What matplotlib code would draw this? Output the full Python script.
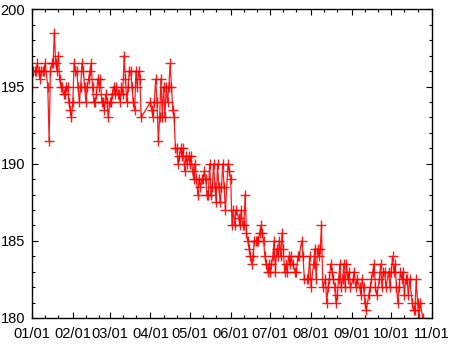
import matplotlib
matplotlib.use("Agg")
import matplotlib.pyplot as plt
import matplotlib.dates as mdates
import pandas as pd

# day of year (0 = 01/01) and weight readings
days = [
    0, 1, 2, 3, 4, 5, 6, 7, 8, 9, 10, 12, 13, 14, 15, 16, 17, 18, 19, 20,
    21, 22, 23, 24, 25, 26, 27, 28, 29, 30, 31, 32, 33, 34, 35, 36, 37, 38, 39, 40,
    41, 42, 43, 44, 45, 46, 47, 48, 49, 50, 51, 52, 53, 54, 55, 56, 57, 58, 59, 60,
    61, 62, 63, 64, 65, 66, 67, 68, 69, 70, 71, 72, 73, 74, 75, 76, 77, 78, 79, 80,
    81, 82, 83, 90, 91, 92, 93, 94, 95, 96, 97, 98, 99, 100, 101, 102, 103, 104, 105, 106,
    107, 108, 109, 110, 111, 112, 113, 114, 115, 116, 117, 118, 119, 120, 121, 122, 123, 124, 125, 126,
    127, 128, 129, 130, 131, 132, 133, 134, 135, 136, 137, 138, 139, 140, 141, 142, 143, 144, 145, 146,
    147, 149, 150, 151, 152, 153, 154, 155, 157, 158, 159, 160, 161, 162, 163, 164, 165, 166, 167, 168,
    169, 170, 171, 172, 173, 174, 175, 176, 177, 178, 179, 180, 181, 182, 183, 184, 185, 186, 187, 188,
    189, 190, 191, 192, 193, 194, 195, 196, 197, 198, 200, 201, 202, 203, 205, 206, 207, 209, 210, 211,
    212, 214, 215, 216, 217, 218, 219, 220, 221, 223, 224, 225, 226, 227, 228, 229, 230, 231, 232, 233,
    234, 235, 236, 237, 238, 239, 240, 241, 242, 244, 245, 246, 247, 249, 250, 251, 252, 253, 254, 256,
    257, 258, 259, 260, 261, 262, 264, 265, 266, 267, 268, 269, 271, 272, 273, 274, 275, 276, 277, 278,
    279, 280, 281, 282, 283, 284, 285, 286, 287, 289, 290, 291, 292, 293, 294, 295, 297,
]
weight = [
    195, 196, 196, 196, 196.5, 196, 195.5, 196, 196, 196, 196.5, 195, 191.5, 196, 196.5, 196.5, 198.5, 196.5, 196, 197,
    195.5, 195, 195, 194.5, 194.5, 195, 195, 194, 193.5, 193, 194, 196.5, 196, 196, 195, 194, 195, 196.5, 196, 195,
    194, 195, 195.5, 196, 196.5, 195, 194, 194, 194.5, 195.5, 195, 195.5, 194, 194, 193.5, 194.5, 194, 193, 194, 194,
    194.5, 195, 194.5, 195, 194.5, 194.5, 194, 195, 194.5, 197, 195.5, 194, 195, 196, 196, 195, 194, 193.5, 196, 195,
    196, 195.5, 193, 194, 193.5, 193, 194, 195.5, 194, 191.5, 193, 195.5, 193, 195, 193, 195, 194, 195, 196.5, 195,
    193.5, 193, 191, 191, 190, 190.5, 191, 190.5, 191, 189.5, 190.5, 190, 190.5, 190, 190.5, 189.5, 189, 190, 189, 188,
    189, 188.5, 189, 189, 189.5, 189, 188, 188, 190, 188, 188.5, 190, 188.5, 187.5, 190, 188.5, 187.5, 188.5, 190, 188.5,
    187, 190, 189.5, 189, 186, 187, 186, 187, 186.5, 186, 187, 186, 186, 188, 185.5, 185, 184.5, 184, 183.5, 184,
    185, 185, 185, 185, 185.5, 186, 185.5, 185, 184, 183.5, 183, 183.5, 183, 183.5, 184, 185, 183, 184.5, 184, 185,
    184, 185.5, 184.5, 183, 183.5, 183, 184, 183.5, 184, 183.5, 183, 183, 184, 184, 185, 184, 182.5, 182.5, 182.5, 184,
    182, 183.5, 184.5, 182.5, 184.5, 184, 184.5, 186, 182, 182.5, 181, 182, 182.5, 183.5, 183, 182.5, 182, 181, 181.5, 182.5,
    183.5, 182, 182.5, 183.5, 182, 183.5, 182.5, 183, 182, 182.5, 183, 182, 182.5, 182, 181.5, 182.5, 182, 181, 180.5, 181.5,
    182, 182.5, 183, 183.5, 182, 181.5, 182.5, 183.5, 182, 183, 183, 182, 183, 182, 183, 184, 183, 183.5, 182, 181,
    182, 183, 182.5, 183, 181.5, 182.5, 182.5, 181.5, 182.5, 181, 180.5, 180.5, 182.5, 181, 180, 181, 180,
]

dates = pd.Timestamp("2015-01-01") + pd.to_timedelta(days, unit="D")

plt.rcParams["font.family"] = ["Liberation Sans", "DejaVu Sans"]
fig = plt.figure(figsize=(4.5, 3.45), dpi=100)
ax = fig.add_axes([0.0711, 0.0783, 0.8889, 0.8942])

ax.plot(dates, weight, color="#ff0000", lw=0.9, marker="+", ms=7,
        mew=1.0, alpha=0.9)

ax.set_ylim(180, 200)
ax.set_xlim(pd.Timestamp("2015-01-01"), pd.Timestamp("2015-11-01"))
ax.yaxis.set_major_locator(plt.MultipleLocator(5))
ax.yaxis.set_minor_locator(plt.MultipleLocator(1))
ax.xaxis.set_major_locator(mdates.MonthLocator())
ax.xaxis.set_minor_locator(mdates.DayLocator(bymonthday=[11, 21]))
ax.xaxis.set_major_formatter(mdates.DateFormatter("%m/%d"))

ax.tick_params(which="both", direction="in", top=True, right=True,
               labelsize=10.5, width=0.8)
ax.tick_params(axis="x", pad=6.5)
ax.tick_params(axis="y", pad=5)
ax.tick_params(which="major", length=4.5)
ax.tick_params(which="minor", length=2.5)
for s in ax.spines.values():
    s.set_linewidth(1.0)

fig.savefig("out.png", dpi=100)
